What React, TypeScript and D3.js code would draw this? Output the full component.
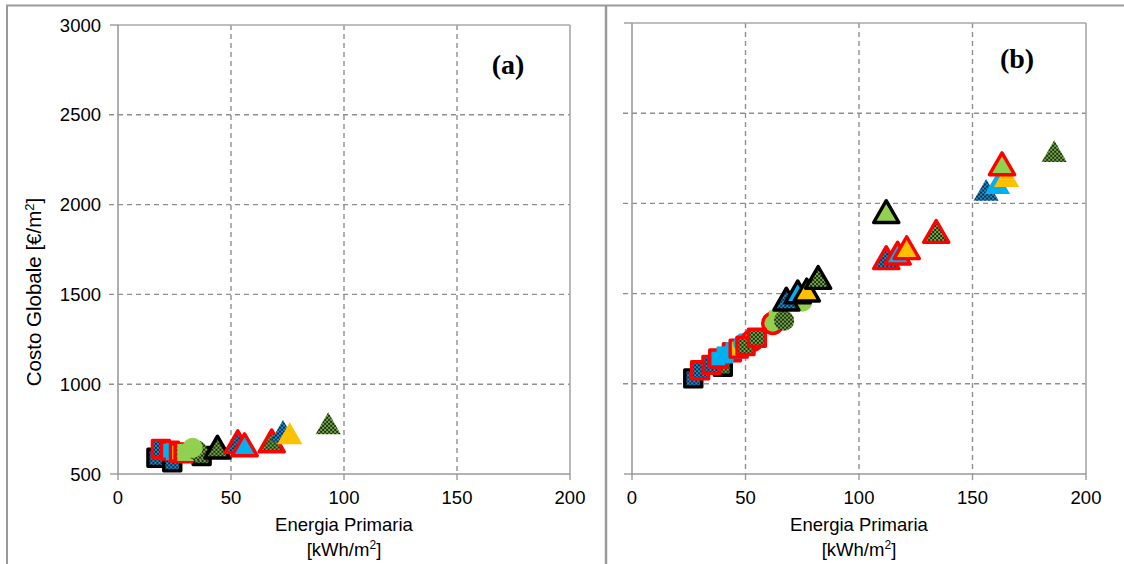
import React from "react";
import * as d3 from "d3";

// ---------- data ----------
const xTicks = [0, 50, 100, 150, 200];
const yTicks = [500, 1000, 1500, 2000, 2500, 3000];
const panelLabels = ["(a)", "(b)"];
const xTitle1 = "Energia Primaria";

// style keys: shape | fill | stroke
const sqBlueBlackA = [[17, 590], [24, 565]];
const sqBlueBlackB = [[27, 1030]];
const sqGreenChkBlackA = [[37, 600]];
const sqGreenChkBlackB = [[40, 1095]];
const sqBlueRedA = [[19, 640]];
const sqBlueRedB = [[30, 1075], [35, 1105]];
const sqLightBlueRedA = [[23, 630]];
const sqLightBlueRedB = [[38, 1140], [44, 1175]];
const sqLightBlueA = [[25, 625]];
const sqLightBlueB = [[41, 1160], [45, 1185]];
const sqYellowRedA = [[27, 620]];
const sqYellowRedB = [[47, 1195]];
const sqGreenChkRedA = [[29, 615]];
const sqGreenChkRedB = [[50, 1210], [55, 1255]];
const sqGreenA = [[30, 620]];
const sqGreenB = [[64, 1360]];
const ciLightBlueA: number[][] = [];
const ciLightBlueB = [[49, 1225]];
const ciRedA: number[][] = [];
const ciRedB = [[53, 1240], [62, 1335]];
const ciGreenChkA = [[35, 630]];
const ciGreenChkB = [[67, 1350]];
const ciGreenA = [[33, 645]];
const ciGreenB = [[75, 1455]];
const trBlueBlackA: number[][] = [];
const trBlueBlackB = [[68, 1455]];
const trLightBlueBlackA: number[][] = [];
const trLightBlueBlackB = [[73, 1495]];
const trYellowBlackA: number[][] = [];
const trYellowBlackB = [[77, 1505]];
const trGreenChkBlackA = [[44, 635]];
const trGreenChkBlackB = [[82, 1575]];
const trGreenBlackA: number[][] = [];
const trGreenBlackB = [[112, 1940]];
const trBlueRedA = [[53, 665]];
const trBlueRedB = [[112, 1685]];
const trLightBlueRedA = [[56, 648]];
const trLightBlueRedB = [[117, 1710]];
const trYellowRedA: number[][] = [];
const trYellowRedB = [[121, 1740]];
const trGreenChkRedA = [[68, 670]];
const trGreenChkRedB = [[134, 1830]];
const trGreenRedA: number[][] = [];
const trGreenRedB = [[163, 2205]];
const trBlueA = [[73, 725]];
const trBlueB = [[156, 2060]];
const trLightBlueA: number[][] = [];
const trLightBlueB = [[161, 2098]];
const trYellowA = [[76, 712]];
const trYellowB = [[165, 2137]];
const trGreenChkA = [[93, 768]];
const trGreenChkB = [[186, 2275]];

type Series = { shape: string; fill: string; stroke: string; a: number[][]; b: number[][] };
const series: Series[] = [
  { shape: "square", fill: "blueChk", stroke: "black", a: sqBlueBlackA, b: sqBlueBlackB },
  { shape: "square", fill: "greenChk", stroke: "black", a: sqGreenChkBlackA, b: sqGreenChkBlackB },
  { shape: "square", fill: "blueChk", stroke: "red", a: sqBlueRedA, b: sqBlueRedB },
  { shape: "square", fill: "lightBlue", stroke: "red", a: sqLightBlueRedA, b: sqLightBlueRedB },
  { shape: "square", fill: "lightBlue", stroke: "none", a: sqLightBlueA, b: sqLightBlueB },
  { shape: "square", fill: "yellow", stroke: "red", a: sqYellowRedA, b: sqYellowRedB },
  { shape: "circle", fill: "lightBlue", stroke: "none", a: ciLightBlueA, b: ciLightBlueB },
  { shape: "circle", fill: "green", stroke: "red", a: ciRedA, b: ciRedB },
  { shape: "square", fill: "greenChk", stroke: "red", a: sqGreenChkRedA, b: sqGreenChkRedB },
  { shape: "square", fill: "green", stroke: "none", a: sqGreenA, b: sqGreenB },
  { shape: "circle", fill: "greenChk", stroke: "none", a: ciGreenChkA, b: ciGreenChkB },
  { shape: "circle", fill: "green", stroke: "none", a: ciGreenA, b: ciGreenB },
  { shape: "triangle", fill: "blueChk", stroke: "black", a: trBlueBlackA, b: trBlueBlackB },
  { shape: "triangle", fill: "lightBlue", stroke: "black", a: trLightBlueBlackA, b: trLightBlueBlackB },
  { shape: "triangle", fill: "yellow", stroke: "black", a: trYellowBlackA, b: trYellowBlackB },
  { shape: "triangle", fill: "greenChk", stroke: "black", a: trGreenChkBlackA, b: trGreenChkBlackB },
  { shape: "triangle", fill: "green", stroke: "black", a: trGreenBlackA, b: trGreenBlackB },
  { shape: "triangle", fill: "blueChk", stroke: "red", a: trBlueRedA, b: trBlueRedB },
  { shape: "triangle", fill: "lightBlue", stroke: "red", a: trLightBlueRedA, b: trLightBlueRedB },
  { shape: "triangle", fill: "yellow", stroke: "red", a: trYellowRedA, b: trYellowRedB },
  { shape: "triangle", fill: "greenChk", stroke: "red", a: trGreenChkRedA, b: trGreenChkRedB },
  { shape: "triangle", fill: "blueChk", stroke: "none", a: trBlueA, b: trBlueB },
  { shape: "triangle", fill: "lightBlue", stroke: "none", a: trLightBlueA, b: trLightBlueB },
  { shape: "triangle", fill: "yellow", stroke: "none", a: trYellowA, b: trYellowB },
  { shape: "triangle", fill: "green", stroke: "red", a: trGreenRedA, b: trGreenRedB },
  { shape: "triangle", fill: "greenChk", stroke: "none", a: trGreenChkA, b: trGreenChkB },
];

// ---------- styles ----------
const FONT = "'Liberation Sans', Arial, sans-serif";
const FS = 18.5;
const GRID = "#8f8f8f";
const AXIS = "#9a9a9a";
const fills: Record<string, string> = {
  blueChk: "url(#blueChk)",
  greenChk: "url(#greenChk)",
  lightBlue: "#00B0F0",
  yellow: "#FFC000",
  green: "#92D050",
};
const strokes: Record<string, string> = { black: "#000000", red: "#FF0000", none: "none" };

const symbolTypes: Record<string, d3.SymbolType> = {
  square: d3.symbolSquare,
  circle: d3.symbolCircle,
  triangle: d3.symbolTriangle,
};
const symbolSizes: Record<string, number> = { square: 290, circle: 320, triangle: 275 };

function Panel({ idx, x0, x1, yTop }: { idx: number; x0: number; x1: number; yTop: number }) {
  const x = d3.scaleLinear().domain([0, 200]).range([x0, x1]);
  const y = d3.scaleLinear().domain([500, 3000]).range([474, yTop]);
  const showY = idx === 0;
  return (
    <g>
      {xTicks.slice(1, -1).map((t) => (
        <line key={"gx" + t} x1={x(t)} x2={x(t)} y1={y(3000)} y2={y(500)} stroke={GRID} strokeWidth={1.4} strokeDasharray="5,4" />
      ))}
      {yTicks.slice(1, -1).map((t) => (
        <line key={"gy" + t} x1={x(0) - 9} x2={x(200)} y1={y(t)} y2={y(t)} stroke={GRID} strokeWidth={1.4} strokeDasharray="5,4" />
      ))}
      <line x1={x(0)} x2={x(200)} y1={y(3000)} y2={y(3000)} stroke="#a8a8a8" strokeWidth={1.6} />
      <line x1={x(200)} x2={x(200)} y1={y(3000)} y2={y(500)} stroke="#a8a8a8" strokeWidth={1.6} />
      <line x1={x(0)} x2={x(0)} y1={y(3000)} y2={y(500)} stroke={AXIS} strokeWidth={1.6} />
      <line x1={x(0)} x2={x(200)} y1={y(500)} y2={y(500)} stroke={AXIS} strokeWidth={1.6} />
      {[500, 3000].map((t) => (
        <line key={"yt" + t} x1={x(0) - 8} x2={x(0)} y1={y(t)} y2={y(t)} stroke={AXIS} strokeWidth={1.4} />
      ))}
      {xTicks.map((t) => (
        <g key={"xt" + t}>
          <line x1={x(t)} x2={x(t)} y1={y(500)} y2={y(500) + 6} stroke={AXIS} strokeWidth={1.4} />
          <text x={x(t)} y={504} textAnchor="middle" fontFamily={FONT} fontSize={FS} fill="#000">
            {t}
          </text>
        </g>
      ))}
      {showY &&
        yTicks.map((t) => (
          <text key={"yl" + t} x={x(0) - 17} y={y(t) + 6.5} textAnchor="end" fontFamily={FONT} fontSize={FS} fill="#000">
            {t}
          </text>
        ))}
      <text x={(x0 + x1) / 2} y={531} textAnchor="middle" fontFamily={FONT} fontSize={FS} fill="#000">
        {xTitle1}
      </text>
      <text x={(x0 + x1) / 2} y={556} textAnchor="middle" fontFamily={FONT} fontSize={FS} fill="#000">
        [kWh/m<tspan dy={-7} fontSize={12}>2</tspan>
        <tspan dy={7}>]</tspan>
      </text>
      <text x={idx === 0 ? 508 : 1017} y={idx === 0 ? 74 : 68} textAnchor="middle" fontFamily="'Liberation Serif', 'Times New Roman', serif" fontWeight="bold" fontSize={28} fill="#000">
        {panelLabels[idx]}
      </text>
      {series.map((s, i) => {
        const pts = idx === 0 ? s.a : s.b;
        const path = d3.symbol().type(symbolTypes[s.shape]).size(symbolSizes[s.shape])();
        return pts.map((p, j) => (
          <path
            key={"m" + i + "_" + j}
            d={path || ""}
            transform={`translate(${x(p[0])},${y(p[1]) + (s.shape === "triangle" ? 1 : 0)})`}
            fill={fills[s.fill]}
            stroke={strokes[s.stroke]}
            strokeWidth={3.4}
            strokeLinejoin="round"
          />
        ));
      })}
    </g>
  );
}

export default function App() {
  return (
    <svg width={1124} height={564} style={{ position: "absolute", left: 0, top: 0, background: "#fff" }}>
      <defs>
        <pattern id="blueChk" width={4} height={4} patternUnits="userSpaceOnUse">
          <rect width={4} height={4} fill="#1E90D6" />
          <rect width={2} height={2} fill="#0a2a40" />
          <rect x={2} y={2} width={2} height={2} fill="#0a2a40" />
        </pattern>
        <pattern id="greenChk" width={4} height={4} patternUnits="userSpaceOnUse">
          <rect width={4} height={4} fill="#70AD47" />
          <rect width={2} height={2} fill="#1f2a10" />
          <rect x={2} y={2} width={2} height={2} fill="#1f2a10" />
        </pattern>
      </defs>
      <rect x={0} y={0} width={1124} height={564} fill="#fff" />
      <line x1={7} x2={7} y1={5} y2={564} stroke="#9a9a9a" strokeWidth={2} />
      <line x1={6} x2={1124} y1={5.5} y2={5.5} stroke="#9a9a9a" strokeWidth={2} />
      <line x1={606} x2={606} y1={5} y2={564} stroke="#9a9a9a" strokeWidth={2.5} />
      <Panel idx={0} x0={118} x1={570} yTop={25} />
      <Panel idx={1} x0={632} x1={1086} yTop={23} />
      <text transform="translate(41,292) rotate(-90)" textAnchor="middle" fontFamily={FONT} fontSize={20.5} fill="#000">
        Costo Globale [€/m<tspan dy={-7} fontSize={13}>2</tspan>
        <tspan dy={7}>]</tspan>
      </text>
    </svg>
  );
}
